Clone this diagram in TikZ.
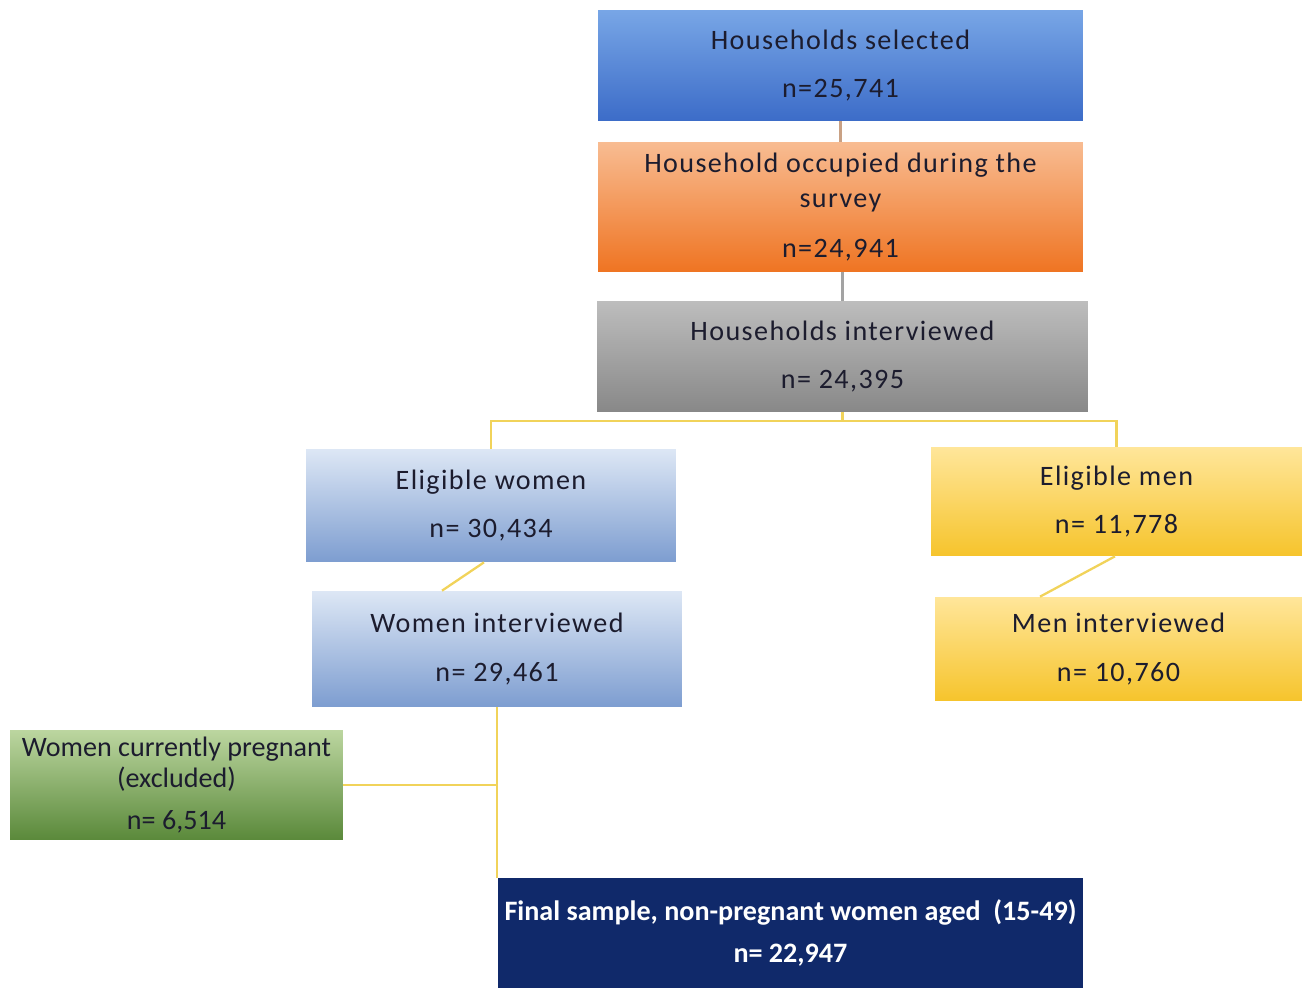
\documentclass[tikz,border=0pt]{standalone}
\usepackage{fontspec}
\setmainfont{Carlito}
\newfontfamily\spacedfont{Carlito}[LetterSpace=5.0]
\usepackage{xcolor}
\definecolor{txtdark}{HTML}{1C1C2E}
\definecolor{selTop}{HTML}{78A6E6}
\definecolor{selBot}{HTML}{3C6CC8}
\definecolor{occTop}{HTML}{F8BC92}
\definecolor{occBot}{HTML}{EF7422}
\definecolor{intTop}{HTML}{BDBDBD}
\definecolor{intBot}{HTML}{888888}
\definecolor{womTop}{HTML}{DDE7F5}
\definecolor{womBot}{HTML}{7D9DD0}
\definecolor{menTop}{HTML}{FFE69A}
\definecolor{menBot}{HTML}{F6C42C}
\definecolor{pregTop}{HTML}{BCD6A0}
\definecolor{pregBot}{HTML}{5A893A}
\definecolor{finalBlue}{HTML}{10296A}
\definecolor{tanLine}{HTML}{C9A184}
\definecolor{grayLine}{HTML}{A3A3A3}
\definecolor{yellowLine}{HTML}{F1D35A}
\tikzset{box/.style={inner sep=0pt, align=center, text=txtdark,
   font=\spacedfont\fontsize{16}{20}\selectfont},
 selbox/.style={box, top color=selTop, bottom color=selBot},
 occbox/.style={box, top color=occTop, bottom color=occBot},
 intbox/.style={box, top color=intTop, bottom color=intBot},
 wombox/.style={box, top color=womTop, bottom color=womBot},
 menbox/.style={box, top color=menTop, bottom color=menBot},
 pregbox/.style={box, top color=pregTop, bottom color=pregBot,
   font=\fontsize{16}{18}\selectfont},
 finalbox/.style={box, fill=finalBlue, text=white,
   font=\bfseries\fontsize{16}{20}\selectfont},
 link/.style={line width=1.3pt, draw=yellowLine},
 }

\begin{document}
\begin{tikzpicture}[x=0.02cm, y=-0.02cm]
        \useasboundingbox (0,0) rectangle (1303,988);
        \node[selbox, minimum width=9.7cm, minimum height=2.22cm] (sel) at (840.5,65.5)
            {Households selected\\[7.5pt] n=25,741};
        \node[occbox, minimum width=9.7cm, minimum height=2.6cm] (occ) at (840.5,207)
            {Household occupied during the\\ survey\\[8.5pt] n=24,941};
        \node[intbox, minimum width=9.82cm, minimum height=2.22cm] (intv) at (842.5,356.5)
            {Households interviewed\\[7.5pt] n= 24,395};
        \node[wombox, minimum width=7.4cm, minimum height=2.26cm] (ew) at (491,505.5)
            {Eligible women\\[7.5pt] n= 30,434};
        \node[menbox, minimum width=7.42cm, minimum height=2.18cm] (em) at (1116.5,501.5)
            {Eligible men\\[7.5pt] n= 11,778};
        \node[wombox, minimum width=7.4cm, minimum height=2.32cm] (wi) at (497,649)
            {Women interviewed\\[7.5pt] n= 29,461};
        \node[menbox, minimum width=7.34cm, minimum height=2.08cm] (mi) at (1118.5,649)
            {Men interviewed\\[7.5pt] n= 10,760};
        \node[pregbox, minimum width=6.66cm, minimum height=2.2cm] (preg) at (176.5,785)
            {Women currently pregnant\\ (excluded)\\[6pt] n= 6,514};
        \node[finalbox, minimum width=11.7cm, minimum height=2.2cm] (fin) at (790.5,933)
            {Final sample, non-pregnant women aged~~(15-49)\\[4pt] n= 22,947};
        \draw[line width=1.3pt, draw=tanLine] (sel.south) -- (occ.north);
        \draw[line width=1.3pt, draw=grayLine] (intv.north |- occ.south) -- (intv.north);
        \draw[link] (intv.south) -- ++(0,9) coordinate (split);
        \draw[link] (ew.north) |- (split) -| (em.north);
        \draw[link] ([xshift=-0.14cm]ew.south) -- ([xshift=-1.1cm]wi.north);
        \draw[link] ([xshift=-0.03cm]em.south) -- ([xshift=-1.57cm]mi.north);
        \draw[link] (wi.south) -- (wi.south |- fin.north);
        \draw[link] (preg.east) -- (preg.east -| wi.south);
    \end{tikzpicture}
\end{document}
